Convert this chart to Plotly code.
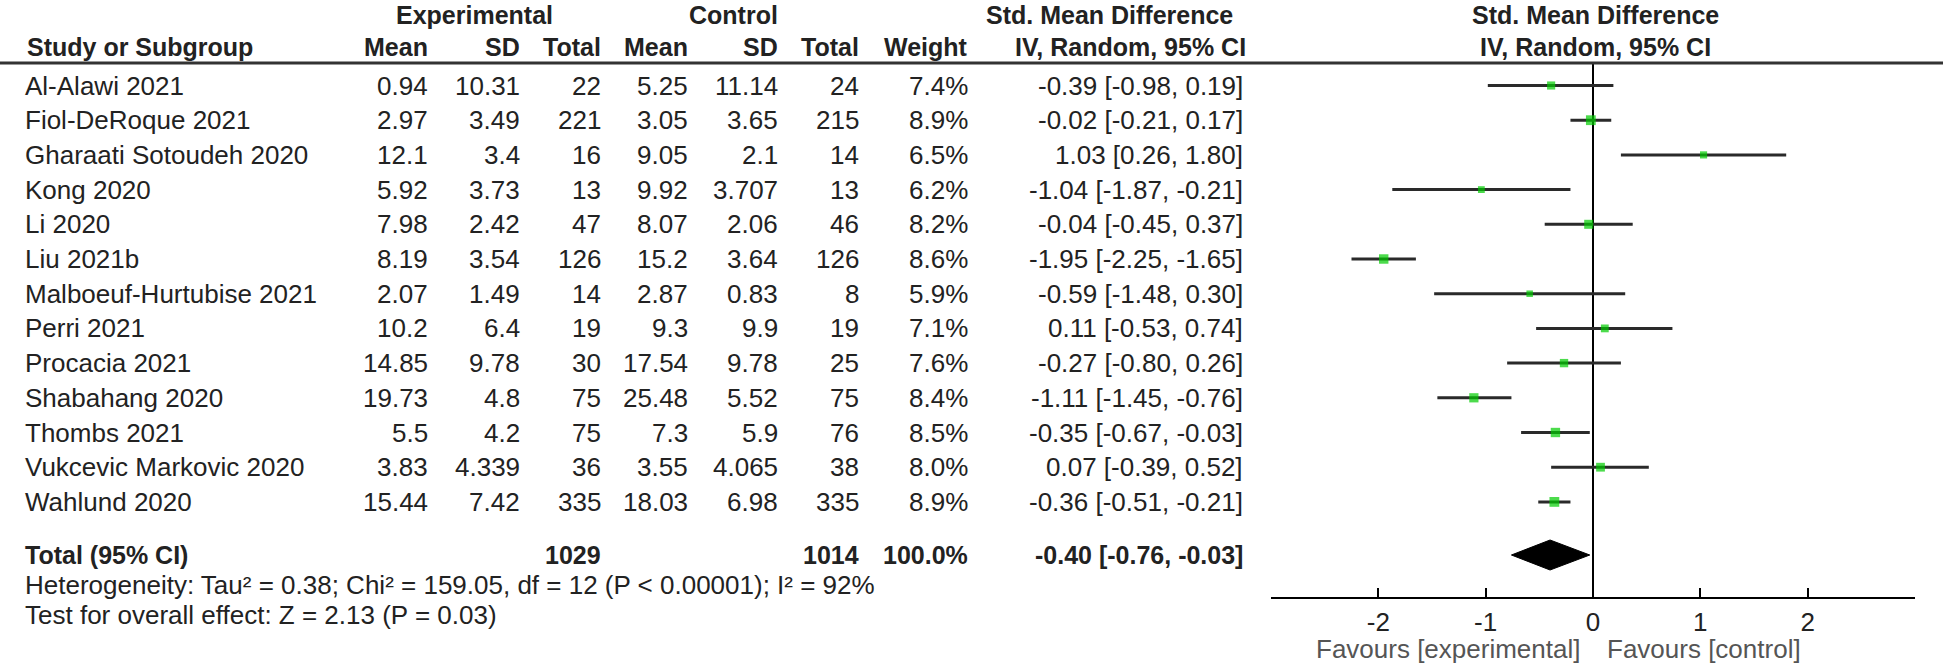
import plotly.graph_objects as go

# ---------------- data ----------------
studies = ["Al-Alawi 2021", "Fiol-DeRoque 2021", "Gharaati Sotoudeh 2020", "Kong 2020",
           "Li 2020", "Liu 2021b", "Malboeuf-Hurtubise 2021", "Perri 2021",
           "Procacia 2021", "Shabahang 2020", "Thombs 2021", "Vukcevic Markovic 2020",
           "Wahlund 2020"]
exp_mean = [0.94, 2.97, 12.1, 5.92, 7.98, 8.19, 2.07, 10.2, 14.85, 19.73, 5.5, 3.83, 15.44]
exp_sd = [10.31, 3.49, 3.4, 3.73, 2.42, 3.54, 1.49, 6.4, 9.78, 4.8, 4.2, 4.339, 7.42]
exp_n = [22, 221, 16, 13, 47, 126, 14, 19, 30, 75, 75, 36, 335]
ctl_mean = [5.25, 3.05, 9.05, 9.92, 8.07, 15.2, 2.87, 9.3, 17.54, 25.48, 7.3, 3.55, 18.03]
ctl_sd = [11.14, 3.65, 2.1, 3.707, 2.06, 3.64, 0.83, 9.9, 9.78, 5.52, 5.9, 4.065, 6.98]
ctl_n = [24, 215, 14, 13, 46, 126, 8, 19, 25, 75, 76, 38, 335]
weight = [7.4, 8.9, 6.5, 6.2, 8.2, 8.6, 5.9, 7.1, 7.6, 8.4, 8.5, 8.0, 8.9]
smd = [-0.39, -0.02, 1.03, -1.04, -0.04, -1.95, -0.59, 0.11, -0.27, -1.11, -0.35, 0.07, -0.36]
ci_lo = [-0.98, -0.21, 0.26, -1.87, -0.45, -2.25, -1.48, -0.53, -0.80, -1.45, -0.67, -0.39, -0.51]
ci_hi = [0.19, 0.17, 1.80, -0.21, 0.37, -1.65, 0.30, 0.74, 0.26, -0.76, -0.03, 0.52, -0.21]

total_exp_n = 1029
total_ctl_n = 1014
total_weight = 100.0
total_smd = -0.40
total_lo = -0.76
total_hi = -0.03

heterogeneity_text = "Heterogeneity: Tau² = 0.38; Chi² = 159.05, df = 12 (P < 0.00001); I² = 92%"
overall_text = "Test for overall effect: Z = 2.13 (P = 0.03)"
x_ticks = [-2, -1, 0, 1, 2]
favours_left = "Favours [experimental]"
favours_right = "Favours [control]"

# ---------------- layout geometry ----------------
W, H = 1943, 666
ROW0_PX, ROW_PX = 85.5, 34.7


def px_to_row(p):
    return 1 + (p - ROW0_PX) / ROW_PX


HEADER_LINE_PX = 63
AXIS_PX = 597
FOREST_LEFT_PX, FOREST_RIGHT_PX = 1271, 1915

FONT = "Liberation Sans, Arial, sans-serif"
FS = 26
FSB = 25
TXT = "#222222"

rows = list(range(1, len(studies) + 1))
total_row = px_to_row(555)

fig = go.Figure()

# dummy trace for the full-page text axes
fig.add_trace(go.Scatter(x=[], y=[], xaxis="x2", yaxis="y2", showlegend=False, hoverinfo="skip"))

# study estimates with CIs
fig.add_trace(go.Scatter(
    x=smd, y=rows, mode="markers",
    marker=dict(symbol="square", color="#00cc00", size=[w * 1.1 for w in weight], line=dict(width=0)),
    error_x=dict(type="data", symmetric=False,
                 array=[h - m for h, m in zip(ci_hi, smd)],
                 arrayminus=[m - l for m, l in zip(smd, ci_lo)],
                 color="#2a2a2a", thickness=3, width=0),
    showlegend=False, hoverinfo="skip", cliponaxis=False,
))

# pooled diamond
dh = 15 / ROW_PX
fig.add_trace(go.Scatter(
    x=[total_lo, total_smd, total_hi, total_smd, total_lo],
    y=[total_row, total_row - dh, total_row, total_row + dh, total_row],
    mode="lines", fill="toself", fillcolor="black", line=dict(color="black", width=1),
    showlegend=False, hoverinfo="skip",
))

ann = []


def add_text(x, y, text, anchor="right", bold=False, size=None, color=TXT):
    if size is None:
        size = FSB if bold else FS
    ann.append(dict(x=x, y=y, xref="x2", yref="y2", text=f"<b>{text}</b>" if bold else text,
                    showarrow=False, xanchor=anchor, yanchor="middle",
                    font=dict(family=FONT, size=size, color=color)))


# headers
h1 = px_to_row(15)
h2 = px_to_row(47)
add_text(474, h1, "Experimental", "center", True)
add_text(733, h1, "Control", "center", True)
add_text(1109, h1, "Std. Mean Difference", "center", True)
add_text(1595, h1, "Std. Mean Difference", "center", True)
add_text(25, h2, "Study or Subgroup", "left", True)
COLS = [430, 522, 603, 690, 780, 861, 970]
for cx, lab in zip(COLS, ["Mean", "SD", "Total", "Mean", "SD", "Total", "Weight"]):
    add_text(cx, h2, lab, "right", True)
add_text(1130, h2, "IV, Random, 95% CI", "center", True)
add_text(1595, h2, "IV, Random, 95% CI", "center", True)

# study rows
for i, r in enumerate(rows):
    add_text(23, r, studies[i], "left")
    vals = [str(exp_mean[i]), str(exp_sd[i]), str(exp_n[i]), str(ctl_mean[i]), str(ctl_sd[i]),
            str(ctl_n[i]), f"{weight[i]:.1f}%"]
    for cx, v in zip(COLS, vals):
        add_text(cx, r, v, "right")
    add_text(1245, r, f"{smd[i]:.2f} [{ci_lo[i]:.2f}, {ci_hi[i]:.2f}]", "right")

# total row
add_text(23, total_row, "Total (95% CI)", "left", True)
add_text(COLS[2], total_row, str(total_exp_n), "right", True)
add_text(COLS[5], total_row, str(total_ctl_n), "right", True)
add_text(COLS[6], total_row, f"{total_weight:.1f}%", "right", True)
add_text(1245, total_row, f"{total_smd:.2f} [{total_lo:.2f}, {total_hi:.2f}]", "right", True)

add_text(23, px_to_row(585), heterogeneity_text, "left")
add_text(23, px_to_row(615), overall_text, "left")

# favours labels (anchored at zero of the forest axis)
fav_y = px_to_row(649)
ann.append(dict(x=0, y=fav_y, xref="x", yref="y2", text=favours_left, showarrow=False,
                xanchor="right", yanchor="middle", xshift=-11,
                font=dict(family=FONT, size=FS, color="#555555")))
ann.append(dict(x=0, y=fav_y, xref="x", yref="y2", text=favours_right, showarrow=False,
                xanchor="left", yanchor="middle", xshift=12,
                font=dict(family=FONT, size=FS, color="#555555")))

fig.update_layout(
    width=W, height=H,
    margin=dict(l=0, r=0, t=0, b=0),
    paper_bgcolor="white", plot_bgcolor="rgba(0,0,0,0)",
    annotations=ann,
    shapes=[dict(type="line", xref="paper", yref="paper", x0=0, x1=1,
                 y0=1 - HEADER_LINE_PX / H, y1=1 - HEADER_LINE_PX / H,
                 line=dict(color="#333333", width=3))],
    xaxis=dict(domain=[FOREST_LEFT_PX / W, FOREST_RIGHT_PX / W], range=[-3, 3],
               tickvals=x_ticks, ticktext=[str(t) for t in x_ticks],
               ticks="inside", ticklen=9, tickwidth=2, tickcolor="black",
               showline=True, linecolor="black", linewidth=2,
               zeroline=True, zerolinecolor="black", zerolinewidth=2,
               showgrid=False, anchor="y", ticklabelstandoff=1,
               tickfont=dict(family=FONT, size=FS, color=TXT)),
    yaxis=dict(domain=[1 - AXIS_PX / H, 1 - HEADER_LINE_PX / H],
               range=[px_to_row(AXIS_PX), px_to_row(HEADER_LINE_PX)],
               visible=False, showgrid=False, zeroline=False),
    xaxis2=dict(domain=[0, 1], range=[0, W], visible=False, anchor="y2", showgrid=False, zeroline=False),
    yaxis2=dict(domain=[0, 1], range=[px_to_row(H), px_to_row(0)], visible=False, anchor="x2",
                showgrid=False, zeroline=False),
)

fig.write_html("out.html", config={"displayModeBar": False},
               post_script="document.body.style.margin='0';")
